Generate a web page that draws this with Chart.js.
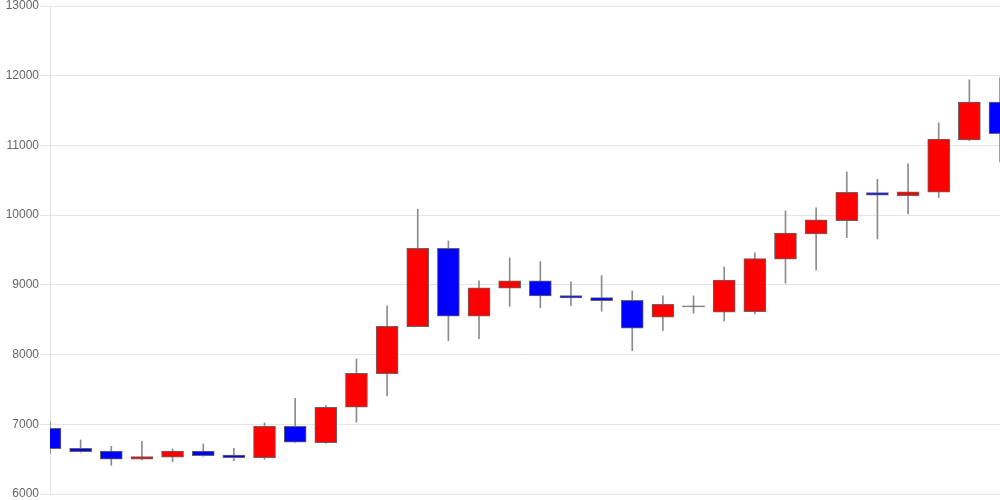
<!DOCTYPE html>
<html>
<head>
<meta charset="utf-8">
<script src="https://cdn.jsdelivr.net/npm/chart.js@4/dist/chart.umd.min.js"></script>
<style>
  html, body { margin: 0; padding: 0; background: #fff; }
  #wrap { width: 1000px; height: 500px; }
</style>
</head>
<body>
<div id="wrap"><canvas id="candleChart"></canvas></div>
<script>
// ローソク足データ
const labels = ['1','2','3','4','5','6','7','8','9','10','11','12','13','14','15','16',
                '17','18','19','20','21','22','23','24','25','26','27','28','29','30','31','32'];
const opens  = [6943, 6656, 6617, 6498, 6527, 6617, 6560, 6521, 6971, 6736, 7244, 7726, 8401, 9525, 8550, 8952,
                9057, 8846, 8817, 8779, 8536, 8685, 8607, 8616, 9368, 9731, 9922, 10324, 10281, 10329, 11080, 11621];
const closes = [6650, 6608, 6498, 6535, 6617, 6550, 6521, 6971, 6742, 7244, 7732, 8406, 9525, 8550, 8956, 9057,
                8841, 8812, 8774, 8378, 8722, 8685, 9070, 9376, 9741, 9932, 10329, 10286, 10333, 11090, 11621, 11170];
const highs  = [7037, 6775, 6684, 6756, 6646, 6717, 6656, 7019, 7373, 7273, 7937, 8698, 10085, 9630, 9057, 9387,
                9333, 9042, 9132, 8913, 8841, 8841, 9257, 9458, 10061, 10104, 10620, 10515, 10735, 11323, 11941, 11970];
const lows   = [6574, 6598, 6412, 6488, 6464, 6541, 6478, 6498, 6742, 6727, 7029, 7406, 8401, 8200, 8229, 8693,
                8673, 8702, 8622, 8056, 8343, 8593, 8482, 8583, 9023, 9210, 9678, 9659, 10017, 10252, 11070, 10764];

const bodies = opens.map((o, i) => [o, closes[i]]);
const wicks = lows.map((l, i) => [l, highs[i]]);
// 陽線は赤、陰線は青、同値は灰色
const bodyColors = opens.map((o, i) => closes[i] > o ? '#ff0000' : (closes[i] < o ? '#0000ff' : '#666666'));

const ctx = document.getElementById('candleChart').getContext('2d');
const candleChart = new Chart(ctx, {
    type: 'bar',
    data: {
        labels: labels,
        datasets: [{
            label: 'body',
            data: bodies,
            backgroundColor: bodyColors,
            borderColor: '#666666',
            borderWidth: 1,
            borderSkipped: false,
            barThickness: 22,
            minBarLength: 1,
            grouped: false,
            clip: 0,
            order: 1
        }, {
            label: 'wick',
            data: wicks,
            backgroundColor: '#8c8c8c',
            borderWidth: 0,
            barThickness: 1,
            grouped: false,
            clip: 0,
            order: 2
        }]
    },
    options: {
        responsive: true,
        maintainAspectRatio: false,
        animation: false,
        plugins: {
            legend: { display: false },
            tooltip: { enabled: false }
        },
        scales: {
            x: {
                display: false,
                offset: false,
                grid: { display: false }
            },
            y: {
                min: 6000,
                max: 13000,
                afterFit: (scale) => {
                    scale.width = 50;
                    scale.paddingTop = 6;
                    scale.paddingBottom = 6;
                },
                ticks: {
                    stepSize: 1000,
                    color: '#666',
                    padding: 1,
                    font: { size: 12 },
                    callback: (v) => String(v)
                },
                grid: { color: 'rgba(0,0,0,0.1)', tickLength: 10 }
            }
        }
    }
});
</script>
</body>
</html>
